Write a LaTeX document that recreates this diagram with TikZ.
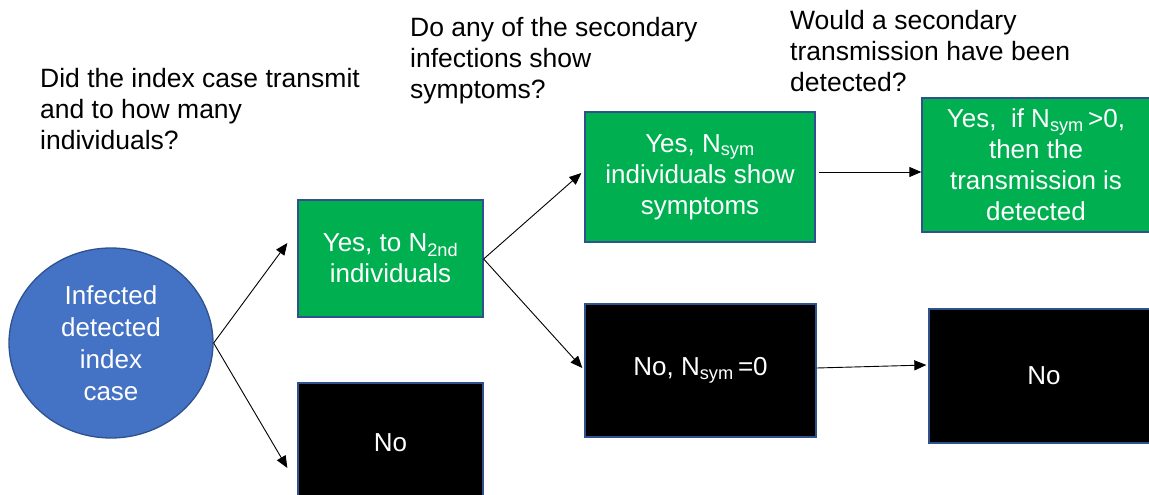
\documentclass[tikz,border=0pt]{standalone}
\usepackage{fontspec}
\setmainfont{Liberation Sans}
\usetikzlibrary{arrows.meta,calc,shapes.geometric}
\definecolor{cblue}{HTML}{4472C4}
\definecolor{cedge}{HTML}{2F528F}
\definecolor{cgreen}{HTML}{00B050}
\tikzset{
  box/.style={draw=cedge, line width=1.3pt, inner sep=0pt, align=center, text=white,
    font=\fontsize{26}{31}\selectfont},
  gbox/.style={box, fill=cgreen},
  kbox/.style={box, fill=black},
  question/.style={anchor=north west, inner sep=0pt, align=left, text=black,
    font=\fontsize{26.5}{31}\selectfont},
  arr/.style={draw=black, line width=0.9pt, -{Triangle[length=12pt,width=10pt]}}
}
\begin{document}
\begin{tikzpicture}[x=1pt,y=-1pt]
\clip (0,0) rectangle (1149,495);
\fill[white] (0,0) rectangle (1149,495);

% questions
\node[question] (q1) at (40,68) {Did the index case transmit\\and to how many\\individuals?};
\node[question] (q2) at (410,17) {Do any of the secondary\\infections show\\symptoms?};
\node[question] (q3) at (790,10) {Would a secondary\\transmission have been\\detected?};

% index case
\node[ellipse, draw=cedge, line width=1.3pt, fill=cblue, inner sep=0pt,
  minimum width=204pt, minimum height=190pt, align=center, text=white,
  font=\fontsize{26}{32}\selectfont] (circ) at (111,343) {Infected\\detected\\index\\case};

% boxes
\node[gbox, minimum width=185pt, minimum height=117pt] (yes2) at (390.5,258.5)
  {Yes, to N\textsubscript{2nd}\\individuals};
\node[kbox, minimum width=185pt, minimum height=120pt] (no1) at (390.5,443) {No};
\node[gbox, minimum width=230pt, minimum height=130pt] (ysym) at (700,177)
  {Yes, N\textsubscript{sym}\\individuals show\\symptoms};
\node[kbox, minimum width=231pt, minimum height=133pt] (nsym) at (700.5,370.5)
  {No, N\textsubscript{sym}\,=0};
\node[gbox, minimum width=228pt, minimum height=134pt] (yif) at (1036,165)
  {Yes,\ \ if N\textsubscript{sym}\,>0,\\then the\\transmission is\\detected};
\node[kbox, minimum width=230pt, minimum height=134pt] (no2) at (1044,376) {No};

% connectors
\draw[arr] (circ.east) -- ([xshift=-10pt,yshift=15.5pt]yes2.west);
\draw[arr] (circ.east) -- ([xshift=-10pt,yshift=-25pt]no1.west);
\draw[arr] ([yshift=-0.5pt]yes2.east) -- ([xshift=-3pt,yshift=4pt]ysym.west);
\draw[arr] ([yshift=-0.5pt]yes2.east) -- ([xshift=-2pt,yshift=2.5pt]nsym.west);
\draw[arr] ([xshift=3pt,yshift=5pt]ysym.east) -- ([xshift=0pt,yshift=-7pt]yif.west);
\draw[arr] ([xshift=0pt,yshift=2.5pt]nsym.east) -- ([xshift=-2pt,yshift=11pt]no2.west);
\end{tikzpicture}
\end{document}
